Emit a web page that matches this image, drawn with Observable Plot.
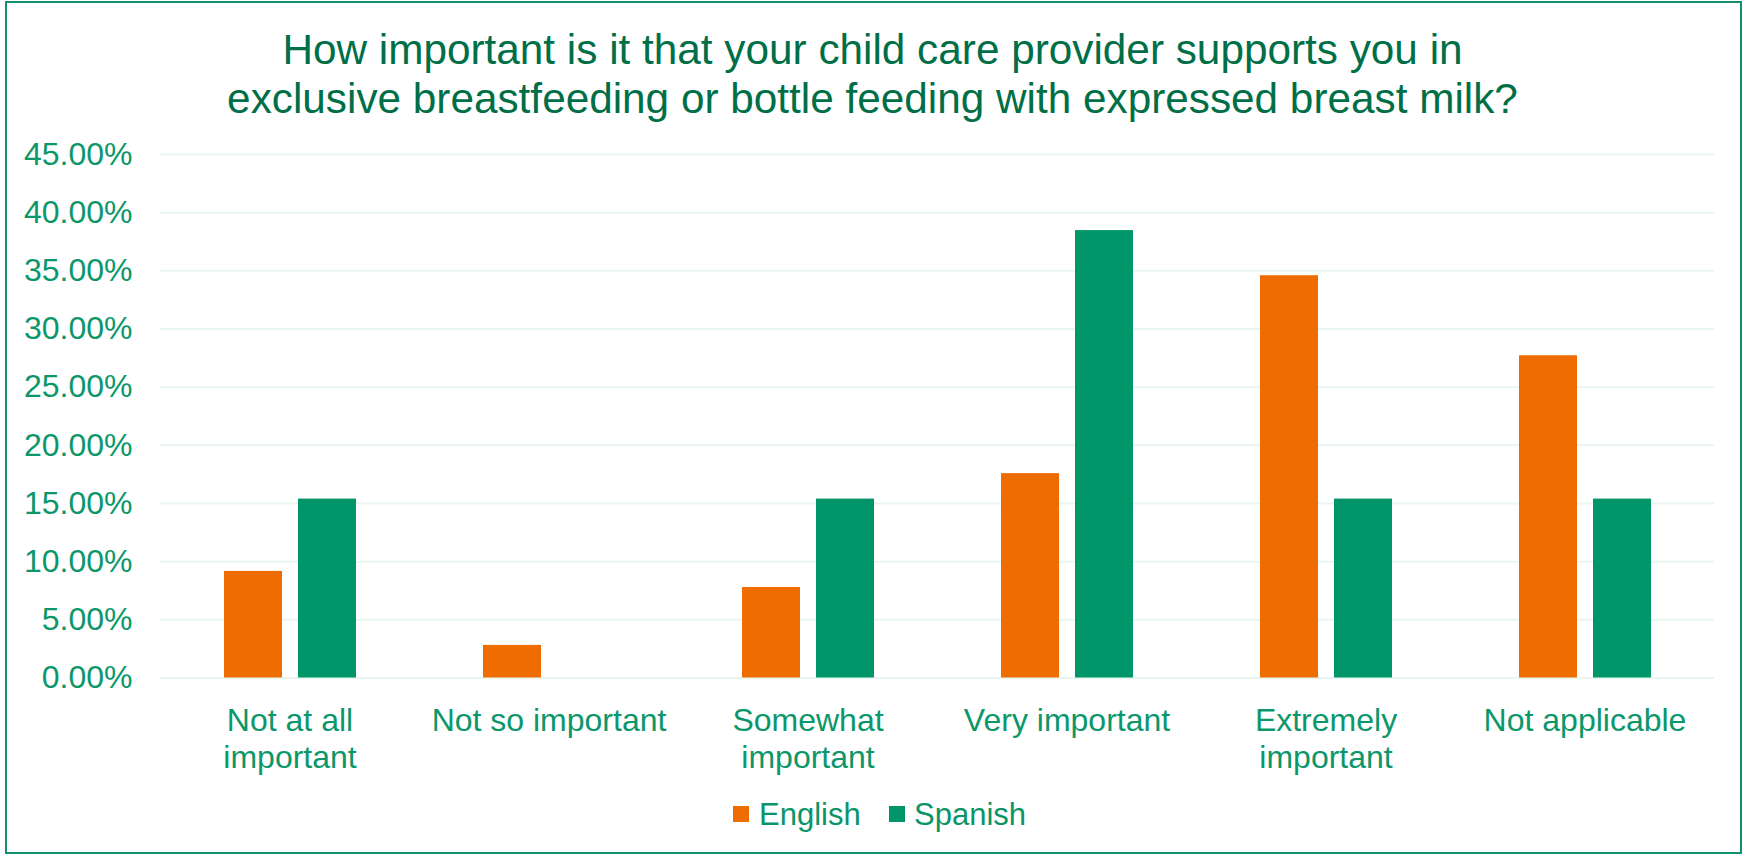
<!DOCTYPE html>
<html>
<head>
<meta charset="utf-8">
<script src="https://cdn.jsdelivr.net/npm/d3@7"></script>
<script src="https://cdn.jsdelivr.net/npm/@observablehq/plot@0.6"></script>
<style>
  html, body { margin: 0; padding: 0; background: #fff; }
  #wrap { position: relative; width: 1742px; height: 854px; overflow: hidden; font-family: "Liberation Sans", Arial, sans-serif; }
  #frame { position: absolute; left: 5px; top: 1px; width: 1733px; height: 849px; border: 2px solid #12906E; }
  #title { position: absolute; left: 5px; width: 1735px; top: 25px; text-align: center; font-size: 42.3px; line-height: 49.4px; color: #006F47; }
  #chart { position: absolute; left: 0; top: 0; }
  .lg-sw { position: absolute; width: 16px; height: 16px; top: 806px; }
  .lg-tx { position: absolute; top: 799px; font-size: 31px; line-height: 31px; color: #0A9468; white-space: nowrap; }
</style>
</head>
<body>
<div id="wrap">
  <div id="frame"></div>
  <div id="title">How important is it that your child care provider supports you in<br>exclusive breastfeeding or bottle feeding with expressed breast milk?</div>
  <div id="chart"></div>
  <div id="legend"></div>
</div>
<script>
const categories = ["Not at all important", "Not so important", "Somewhat important", "Very important", "Extremely important", "Not applicable"];
const categoryLabels = ["Not at all\nimportant", "Not so important", "Somewhat\nimportant", "Very important", "Extremely\nimportant", "Not applicable"];
const series = ["English", "Spanish"];
const english = [9.16, 2.80, 7.78, 17.57, 34.58, 27.70];
const spanish = [15.38, 0, 15.38, 38.46, 15.38, 15.38];
const yTicks = [0, 0.05, 0.10, 0.15, 0.20, 0.25, 0.30, 0.35, 0.40, 0.45];
const colors = ["#EE6C00", "#00966A"];

const rows = categories.flatMap((c, i) => [
  {category: c, language: "English", value: english[i] / 100},
  {category: c, language: "Spanish", value: spanish[i] / 100}
]);

const fmt = d3.format(".2%");

const chart = Plot.plot({
  width: 1742,
  height: 790,
  marginTop: 154,
  marginLeft: 160,
  marginRight: 28,
  marginBottom: 112.5,
  style: {fontFamily: "Liberation Sans, Arial, sans-serif", fontSize: "32px", color: "#0C976B", background: "transparent"},
  fx: {domain: categories, padding: 0, label: null},
  x: {domain: series, paddingInner: 16 / 74, paddingOuter: 0.858, axis: null},
  y: {domain: [0, 0.45], label: null},
  color: {domain: series, range: colors},
  marks: [
    Plot.gridY(yTicks, {stroke: "#E9F6F0", strokeOpacity: 1, strokeWidth: 2}),
    Plot.barY(rows, {fx: "category", x: "language", y: "value", fill: "language"}),
    Plot.axisY(yTicks, {tickSize: 0, tickPadding: 28, tickFormat: fmt, label: null, fontSize: 32}),
    Plot.axisFx({anchor: "bottom", tickSize: 0, tickPadding: 27, label: null, fontSize: 32, lineHeight: 1.15,
      tickFormat: d => categoryLabels[categories.indexOf(d)]})
  ]
});
document.getElementById("chart").appendChild(chart);

const legend = document.getElementById("legend");
const swX = [733, 889];
const txX = [759, 914];
series.forEach((s, i) => {
  const sw = document.createElement("div");
  sw.className = "lg-sw";
  sw.style.left = swX[i] + "px";
  sw.style.background = colors[i];
  legend.appendChild(sw);
  const tx = document.createElement("div");
  tx.className = "lg-tx";
  tx.style.left = txX[i] + "px";
  tx.textContent = s;
  legend.appendChild(tx);
});
</script>
</body>
</html>
